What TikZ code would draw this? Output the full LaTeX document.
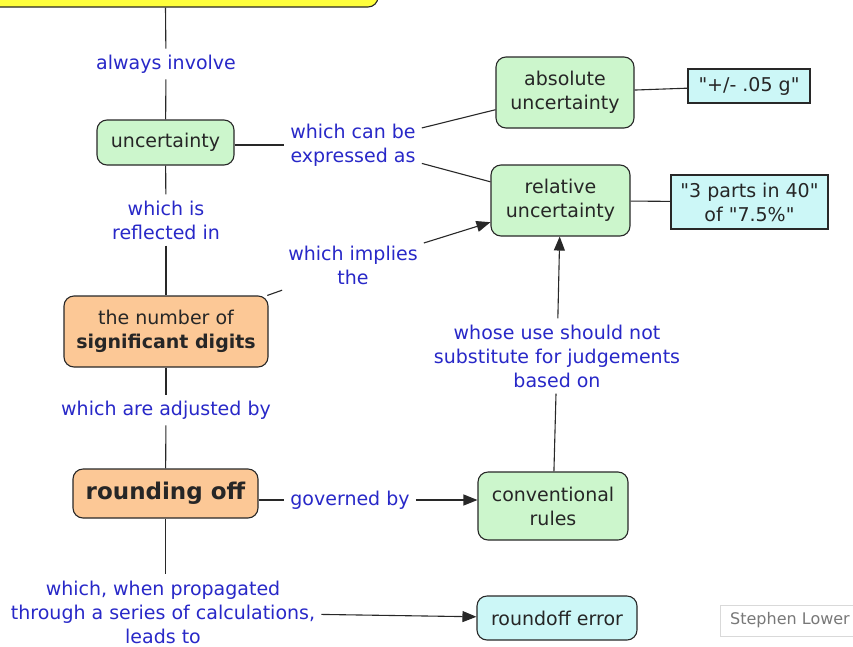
\documentclass[tikz,border=0pt]{standalone}
\usepackage{fontspec}
\setmainfont{DejaVu Sans}[Ligatures=TeXOff]
\usetikzlibrary{arrows.meta}
\definecolor{gfill}{RGB}{204,246,204}
\definecolor{ofill}{RGB}{252,200,150}
\definecolor{cfill}{RGB}{204,247,247}
\definecolor{yfill}{RGB}{255,255,60}
\definecolor{lblue}{RGB}{40,40,200}
\definecolor{edgec}{RGB}{40,40,40}
\definecolor{sgrey}{RGB}{120,120,120}
\begin{document}
\begin{tikzpicture}[x=1pt,y=-1pt,
  box/.style={draw=edgec, line width=1.1pt, rounded corners=10pt, align=center, inner sep=0pt, text=black!85, font=\fontsize{19}{24}\selectfont},
  gbox/.style={box, fill=gfill},
  obox/.style={box, fill=ofill},
  cbox/.style={box, fill=cfill},
  vbox/.style={box, fill=cfill, rounded corners=0pt},
  lbl/.style={text=lblue, align=center, inner sep=6pt, font=\fontsize{19}{24}\selectfont},
  conn/.style={draw=edgec, line width=1.1pt},
  arr/.style={conn, -{Triangle[length=14pt,width=11pt]}},
]
\clip (0,0) rectangle (853,646);
\fill[white] (0,0) rectangle (853,646);

% nodes
\node[box, fill=yfill, minimum width=418pt, minimum height=67pt] (top) at (169,-26.5) {};
\node[gbox, minimum width=137pt, minimum height=45pt] (unc) at (165.5,142.5) {uncertainty};
\node[gbox, minimum width=138pt, minimum height=71pt] (abs) at (565,92.5) {absolute\\uncertainty};
\node[gbox, minimum width=139pt, minimum height=71pt] (rel) at (560.5,200.5) {relative\\uncertainty};
\node[vbox, minimum width=122pt, minimum height=34pt] (pm) at (749,86) {"+/- .05 g"};
\node[vbox, minimum width=157pt, minimum height=54pt] (parts) at (749.5,202) {"3 parts in 40"\\of "7.5\%"};
\node[obox, minimum width=204pt, minimum height=71pt] (sig) at (166,331.5) {the number of\\\textbf{significant digits}};
\node[obox, minimum width=185pt, minimum height=49pt, font=\fontsize{23}{28}\selectfont\bfseries] (round) at (165.5,493.5) {rounding off};
\node[gbox, minimum width=150pt, minimum height=68pt] (conv) at (553,506) {conventional\\rules};
\node[cbox, minimum width=160pt, minimum height=44pt] (rerr) at (557,618) {roundoff error};
\node[draw=black!15, line width=1pt, minimum width=140pt, minimum height=31pt, text=sgrey, font=\fontsize{16}{19}\selectfont, inner sep=0pt] (author) at (790,620.5) {Stephen Lower};

% labels
\node[lbl] (l1) at (166,64) {always involve};
\node[lbl] (l2) at (353,145) {which can be\\expressed as};
\node[lbl] (l3) at (166,220) {which is\\reflected in};
\node[lbl] (l4) at (353,265) {which implies\\the};
\node[lbl] (l5) at (166,410) {which are adjusted by};
\node[lbl] (l6) at (350,500) {governed by};
\node[lbl] (l7) at (557,356) {whose use should not\\substitute for judgements\\based on};
\node[lbl] (l8) at (163,612) {which, when propagated\\through a series of calculations,\\leads to};

% connectors
\draw[conn] (top.south -| unc) -- (l1);
\draw[conn] (l1) -- (unc);
\draw[conn] (unc.east |- l2) -- (l2.west);
\draw[conn] (l2) -- (abs);
\draw[conn] (l2) -- (rel);
\draw[conn] (abs) -- (pm);
\draw[conn] (rel) -- (parts);
\draw[conn] (unc) -- (l3);
\draw[conn] (l3) -- (sig);
\draw[conn] (sig) -- (l4);
\draw[arr] (l4) -- (rel);
\draw[conn] (sig) -- (l5);
\draw[conn] (l5) -- (round);
\draw[conn] (l6.west -| round.east) -- (l6.west);
\draw[arr] (l6.east) -- (l6.east -| conv.west);
\draw[conn] (conv) -- (l7);
\draw[arr] (l7) -- (rel);
\draw[conn] (round.south) -- (round.south |- l8.north);
\draw[arr] (l8) -- (rerr);
\end{tikzpicture}
\end{document}
